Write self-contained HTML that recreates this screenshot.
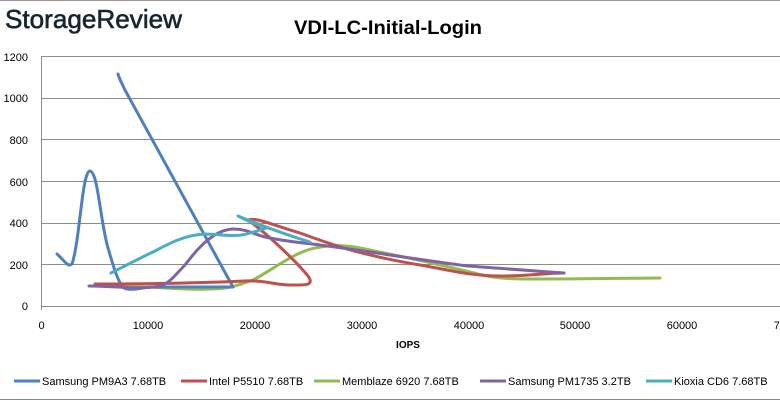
<!DOCTYPE html>
<html><head><meta charset="utf-8"><style>
body{margin:0;background:#fff;}
svg{display:block;font-family:"Liberation Sans",sans-serif;}
</style></head><body>
<svg width="780" height="401" viewBox="0 0 780 401">
<rect x="0" y="0" width="780" height="401" fill="#fff"/>
<line x1="0" y1="0.5" x2="780" y2="0.5" stroke="#999"/>
<line x1="0" y1="399.5" x2="780" y2="399.5" stroke="#888"/>
<text x="5" y="28" font-size="26" fill="#16262f" stroke="#16262f" stroke-width="0.6" textLength="177" lengthAdjust="spacingAndGlyphs">StorageReview</text>
<text x="388" y="34" font-size="19" font-weight="bold" text-anchor="middle" fill="#000" textLength="188" lengthAdjust="spacingAndGlyphs">VDI-LC-Initial-Login</text>
<g stroke="#8c8c8c" stroke-width="1">
<line x1="41.5" y1="56.5" x2="780" y2="56.5"/>
<line x1="41.5" y1="98.5" x2="780" y2="98.5"/>
<line x1="41.5" y1="139.5" x2="780" y2="139.5"/>
<line x1="41.5" y1="181.5" x2="780" y2="181.5"/>
<line x1="41.5" y1="223.5" x2="780" y2="223.5"/>
<line x1="41.5" y1="264.5" x2="780" y2="264.5"/>
<line x1="41.5" y1="306.5" x2="780" y2="306.5"/>
<line x1="41.5" y1="56" x2="41.5" y2="310"/>
</g>
<g font-size="11" fill="#000" text-anchor="end">
<text x="28" y="61">1200</text><text x="28" y="102">1000</text><text x="28" y="144">800</text>
<text x="28" y="186">600</text><text x="28" y="227">400</text><text x="28" y="269">200</text><text x="28" y="310">0</text>
</g>
<g font-size="11" fill="#000" text-anchor="middle">
<text x="41.5" y="329">0</text><text x="148" y="329">10000</text><text x="255" y="329">20000</text>
<text x="362" y="329">30000</text><text x="469" y="329">40000</text><text x="575" y="329">50000</text>
<text x="682" y="329">60000</text><text x="789" y="329">70000</text>
<text x="408" y="348" font-weight="bold" font-size="10">IOPS</text>
</g>
<g fill="none" stroke-width="3" stroke-linecap="round" stroke-linejoin="round">
<path stroke="#94bb4f" d="M95,286 C120,286 130,287 148,287 C170,288 190,290 210,289 C225,289 235,287 255,279 C275,268 295,252 315,248 C330,245 340,245 355,247 C380,252 430,262 470,272 C495,279 510,279 540,279 C600,279 640,278 660,278"/>
<path stroke="#4f80bd" d="M57,254 C64,260 68,268 72,264 C80,240 82,171 90,171 C98,172 100,220 108,248 C113,265 118,283 124,288 C130,291 140,288 150,287 C180,287 210,287 233,287 L125,90 C122,84 119,78 118,74"/>
<path stroke="#c0504d" d="M95,284 C140,284 200,283 244,281 C265,280 275,285 290,285 C305,285 315,286 308,276 C295,260 265,232 248,220 C255,217 270,224 300,233 C330,244 360,255 420,265 C450,270 470,276 500,276 C530,276 545,273 564,273"/>
<path stroke="#8064a2" d="M89,286 C115,286 140,290 160,286 C170,283 175,275 185,265 C200,245 215,230 233,229 C250,229 255,236 270,238 C290,242 305,243 320,245 C360,250 420,260 468,266 C510,269 535,271 564,273"/>
<path stroke="#4bacc6" d="M111,273 C125,266 140,258 155,251 C170,243 185,235 205,234 C220,234 235,238 250,233 C258,231 262,229 267,228 C255,224 245,220 238,216 C260,225 290,236 310,242"/>
</g>
<g font-size="11" fill="#000">
<line x1="14" y1="381" x2="40" y2="381" stroke="#4f80bd" stroke-width="3"/>
<text x="42" y="385">Samsung PM9A3 7.68TB</text>
<line x1="181" y1="381" x2="207" y2="381" stroke="#c0504d" stroke-width="3"/>
<text x="209" y="385">Intel P5510 7.68TB</text>
<line x1="314" y1="381" x2="340" y2="381" stroke="#94bb4f" stroke-width="3"/>
<text x="342" y="385">Memblaze 6920 7.68TB</text>
<line x1="480" y1="381" x2="506" y2="381" stroke="#8064a2" stroke-width="3"/>
<text x="508" y="385">Samsung PM1735 3.2TB</text>
<line x1="646" y1="381" x2="672" y2="381" stroke="#4bacc6" stroke-width="3"/>
<text x="674" y="385">Kioxia CD6 7.68TB</text>
</g>
</svg>
</body></html>
